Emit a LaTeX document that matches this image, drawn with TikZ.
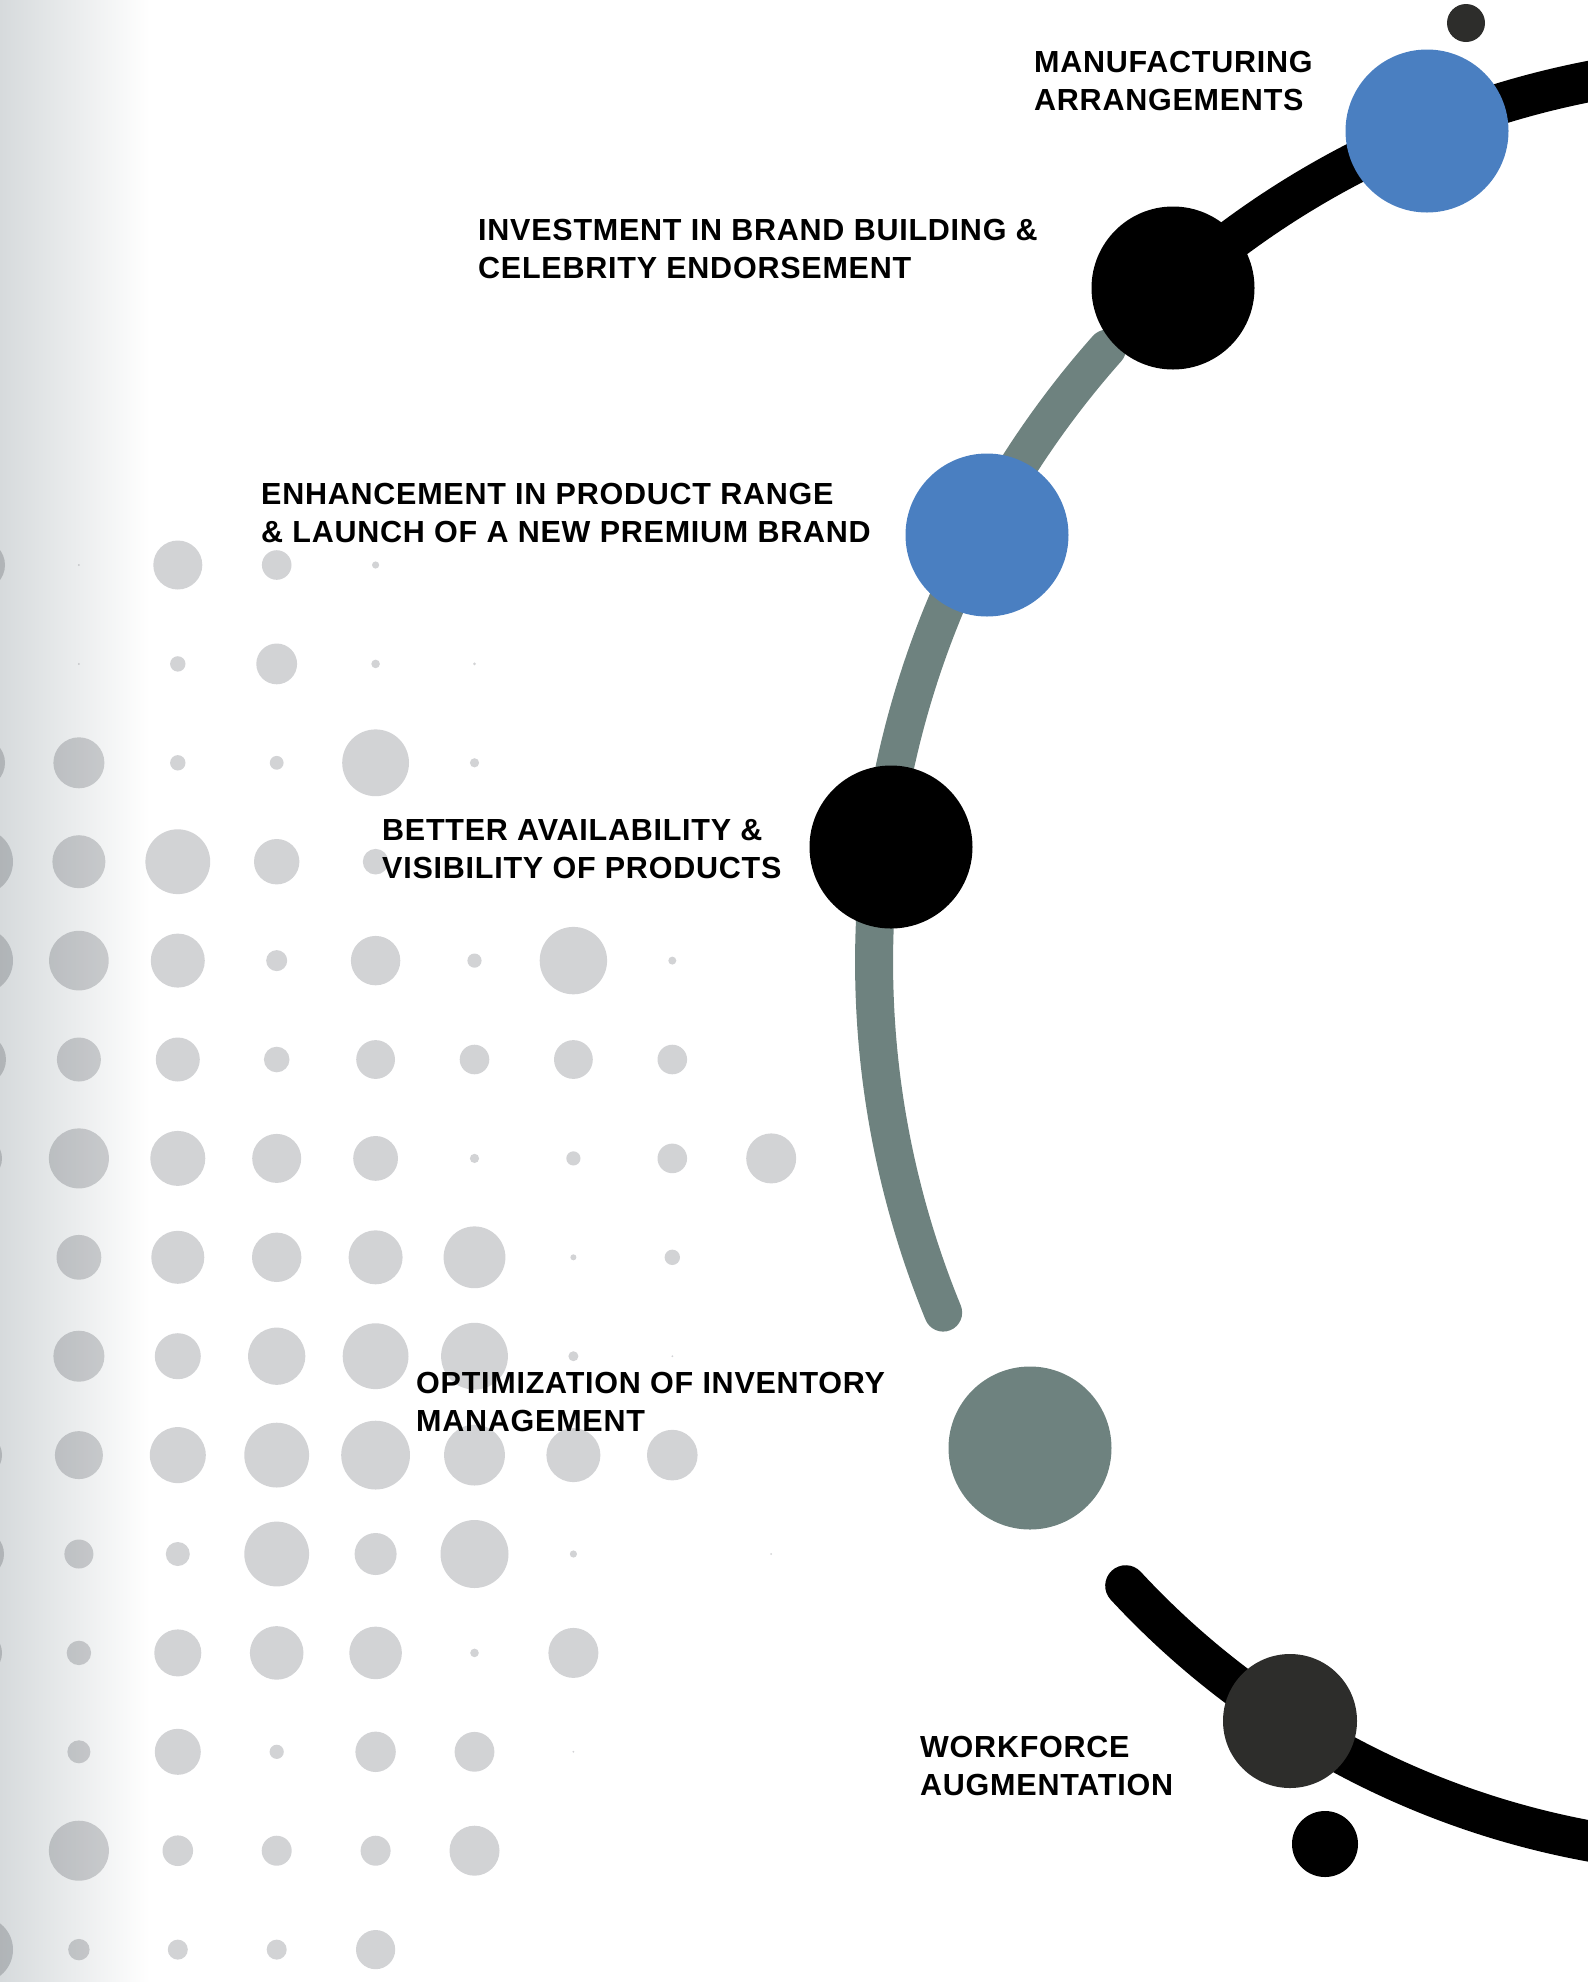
\documentclass[tikz,border=0pt]{standalone}
\usepackage{fontspec}
\setmainfont{Liberation Sans}[LetterSpace=2.5]
\usetikzlibrary{backgrounds}

\definecolor{mblue}{RGB}{74,127,193}
\definecolor{sage}{RGB}{110,130,127}
\definecolor{charcoal}{RGB}{45,45,43}
\definecolor{dotgray}{RGB}{210,211,213}
\definecolor{edgegray}{RGB}{214,218,220}

\begin{document}
\begin{tikzpicture}[x=1pt, y=-1pt,
  bigdot/.style={circle, inner sep=0pt, minimum size=163pt},
  band/.style={line width=41pt, line cap=round},
  milestone/.style={anchor=base west, align=left, inner sep=0pt,
    font=\bfseries\fontsize{30.5}{38}\selectfont}]
\useasboundingbox (0,0) rectangle (1588,1982);
\clip (0,0) rectangle (1588,1982);

% Background fade on the left
\shade[left color=edgegray, right color=white] (0,0) rectangle (150,1982);

% Dot pattern (column/row/radius)
\begin{scope}[blend mode=multiply]
\foreach \c/\r/\s in {0/0/25, 1/0/1, 2/0/24.5, 3/0/14.8, 4/0/3.6,
  1/1/1, 2/1/7.7, 3/1/20.4, 4/1/4.3, 5/1/1.5,
  0/2/25, 1/2/25.5, 2/2/7.7, 3/2/6.9, 4/2/33.4, 5/2/4.6,
  0/3/33, 1/3/26.5, 2/3/32.4, 3/3/22.7, 4/3/12.8,
  0/4/33, 1/4/29.8, 2/4/27, 3/4/10.5, 4/4/24.7, 5/4/7.1, 6/4/33.7, 7/4/4,
  0/5/26, 1/5/22, 2/5/22, 3/5/12.8, 4/5/19.4, 5/5/14.8, 6/5/19.4, 7/5/14.8,
  0/6/22, 1/6/30, 2/6/27.5, 3/6/24.5, 4/6/22.4, 5/6/4.6, 6/6/7.1, 7/6/14.8, 8/6/25,
  1/7/22.4, 2/7/26.5, 3/7/24.7, 4/7/27, 5/7/30.9, 6/7/3, 7/7/7.7,
  1/8/25.5, 2/8/23, 3/8/28.6, 4/8/32.9, 5/8/33.4, 6/8/5, 7/8/1,
  0/9/22, 1/9/24, 2/9/28, 3/9/32.4, 4/9/34.4, 5/9/30.4, 6/9/27, 7/9/25.3,
  0/10/24, 1/10/14.5, 2/10/12, 3/10/32.4, 4/10/21, 5/10/34, 6/10/3.6, 8/10/1,
  0/11/22, 1/11/12.2, 2/11/23.5, 3/11/26.8, 4/11/26.3, 5/11/4.3, 6/11/25,
  1/12/11.5, 2/12/23, 3/12/7.1, 4/12/20.2, 5/12/19.9, 6/12/1,
  1/13/30, 2/13/15.3, 3/13/15, 4/13/15, 5/13/25,
  0/14/33, 1/14/10.7, 2/14/10, 3/14/10, 4/14/19.6}
  \fill[dotgray] (-20+98.9*\c, 565+98.9*\r) circle[radius=\s];
\end{scope}

% Milestones
\node[bigdot, fill=mblue] (manuf) at (1427,131) {};
\node[bigdot, fill=black] (brand) at (1173,288) {};
\node[bigdot, fill=mblue] (range) at (987,535) {};
\node[bigdot, fill=black] (avail) at (891,847) {};
\node[bigdot, fill=sage] (stock) at (1030,1448) {};
\node[circle, inner sep=0pt, minimum size=134pt, fill=charcoal] (staff) at (1290,1721) {};
\node[circle, inner sep=0pt, minimum size=38pt, fill=charcoal] (topdot) at (1466,23) {};
\node[circle, inner sep=0pt, minimum size=66pt, fill=black] (lowdot) at (1325,1844) {};

% Arcs behind the milestones
\coordinate (gc) at (1798,962);
\coordinate (bc) at (1742,1015);
\path (gc) ++(221.6:924) coordinate (gs);
\path (bc) ++(137.2:840) coordinate (bs);
\begin{scope}[on background layer]
\draw[band, black] (brand.center) arc[start angle=228.3, end angle=266, radius=880];
\draw[band, sage, line width=38pt] (gs) arc[start angle=221.6, end angle=157.7, radius=924];
\draw[band, black] (bs) arc[start angle=137.2, end angle=95, radius=840];
\end{scope}

% Labels (base = last line)
\node[milestone] (manuf-t) at (1034,110) {MANUFACTURING\\ARRANGEMENTS};
\node[milestone] (brand-t) at (478,278) {INVESTMENT IN BRAND BUILDING \&\\CELEBRITY ENDORSEMENT};
\node[milestone] (range-t) at (261,542) {ENHANCEMENT IN PRODUCT RANGE\\\& LAUNCH OF A NEW PREMIUM BRAND};
\node[milestone] (avail-t) at (382,878) {BETTER AVAILABILITY \&\\VISIBILITY OF PRODUCTS};
\node[milestone] (stock-t) at (416,1431) {OPTIMIZATION OF INVENTORY\\MANAGEMENT};
\node[milestone] (staff-t) at (920,1795) {WORKFORCE\\AUGMENTATION};
\end{tikzpicture}
\end{document}
